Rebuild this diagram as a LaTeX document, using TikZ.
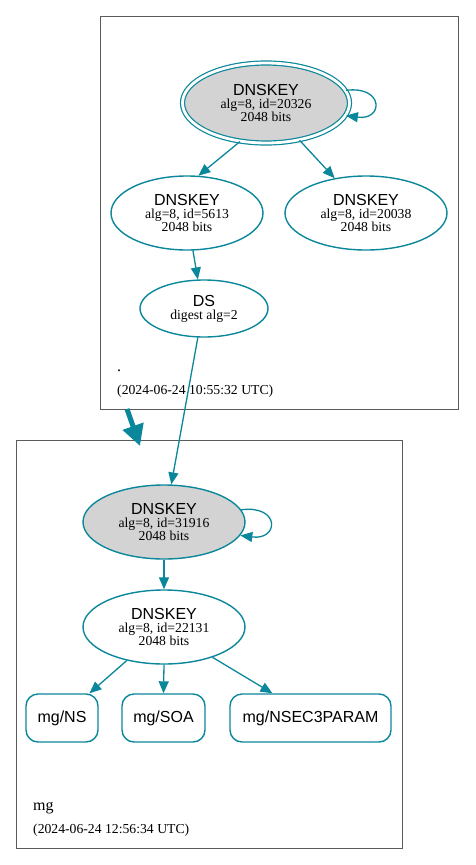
\documentclass[tikz,border=0pt]{standalone}
\usepackage{fontspec}
\setmainfont{Liberation Serif}
\setsansfont{Liberation Sans}
\usetikzlibrary{shapes.geometric,arrows.meta}
\definecolor{edgeteal}{RGB}{10,135,154}
\definecolor{zoneline}{RGB}{90,90,90}
\definecolor{kskfill}{RGB}{211,211,211}
\newcommand{\keylines}[1]{{\sffamily\fontsize{16}{13.2}\selectfont DNSKEY}\\alg=8, id=#1\\2048 bits}
\tikzset{
  zone/.style={draw=zoneline,line width=0.9pt,rectangle,inner sep=0pt},
  key/.style={ellipse,draw=edgeteal,line width=1.4pt,inner sep=0pt,align=center,
    font=\fontsize{13.7}{13.2}\selectfont,minimum width=162pt,minimum height=74pt},
  ksk/.style={key,fill=kskfill},
  rrset/.style={rectangle,rounded corners=12pt,draw=edgeteal,line width=1.4pt,
    font=\sffamily\fontsize{16}{16}\selectfont,minimum height=48pt,inner sep=0pt},
  zonetext/.style={anchor=base west,inner sep=0pt},
  sig/.style={draw=edgeteal,line width=1.3pt,-{Triangle[length=12pt,width=10pt]}}
}
\begin{document}
\begin{tikzpicture}[x=1pt,y=-1pt]
  \useasboundingbox (0,0) rectangle (475,865);
  \node[zone,minimum width=358pt,minimum height=393pt] (rootzone) at (279,212.5) {};
  \node[zone,minimum width=386pt,minimum height=408pt] (mgzone) at (209,644) {};
  \node[ksk,minimum width=167pt,minimum height=80pt,double=white,double distance=2.8pt,line width=1.2pt] (rootksk) at (266,103) {\keylines{20326}};
  \node[key,minimum width=152pt] (rootzsk) at (187,213) {\keylines{5613}};
  \node[key] (rootold) at (366,213) {\keylines{20038}};
  \node[key,minimum width=128pt,minimum height=57pt] (mgds) at (204,308.5)
    {{\sffamily\fontsize{16}{13.2}\selectfont DS}\\digest alg=2};
  \node[zonetext,font=\fontsize{16}{16}\selectfont] (rootname) at (117,371) {.};
  \node[zonetext,font=\fontsize{13.7}{14}\selectfont] (roottime) at (117,394) {(2024-06-24 10:55:32 UTC)};
  \node[ksk] (mgksk) at (164,522) {\keylines{31916}};
  \node[key] (mgzsk) at (164,627) {\keylines{22131}};
  \node[rrset,minimum width=72pt] (mgns) at (62,718) {mg/NS};
  \node[rrset,minimum width=83pt] (mgsoa) at (163.5,718) {mg/SOA};
  \node[rrset,minimum width=161pt] (mgparam) at (310.5,718) {mg/NSEC3PARAM};
  \node[zonetext,font=\fontsize{16}{16}\selectfont] (mgname) at (33,810) {mg};
  \node[zonetext,font=\fontsize{13.7}{14}\selectfont] (mgtime) at (33,833) {(2024-06-24 12:56:34 UTC)};
  \coordinate (delegfrom) at (127,409);
  \coordinate (delegto) at (140,446);
  \begin{scope}[every path/.style=sig]
    \draw (rootksk.9) .. controls +(38,-5) and +(38,5) .. (rootksk.-9);
    \draw (rootksk.236) -- (rootzsk.73);
    \draw (rootksk.312) -- (rootold.132);
    \draw (rootzsk.279) -- (mgds.102);
    \draw (mgds.258) -- (mgksk.79);
    \draw (mgksk.9) .. controls +(39,-5) and +(39,5) .. (mgksk.-10);
    \draw (mgksk.south) -- (mgzsk.north);
    \draw (mgzsk.222) -- (mgns.42);
    \draw (mgzsk.south) -- (mgsoa.north);
    \draw (mgzsk.328) -- (mgparam.147);
  \end{scope}
  \draw[draw=edgeteal,line width=5pt,-{Triangle[length=21pt,width=21pt]}] (delegfrom) -- (delegto);
\end{tikzpicture}
\end{document}
